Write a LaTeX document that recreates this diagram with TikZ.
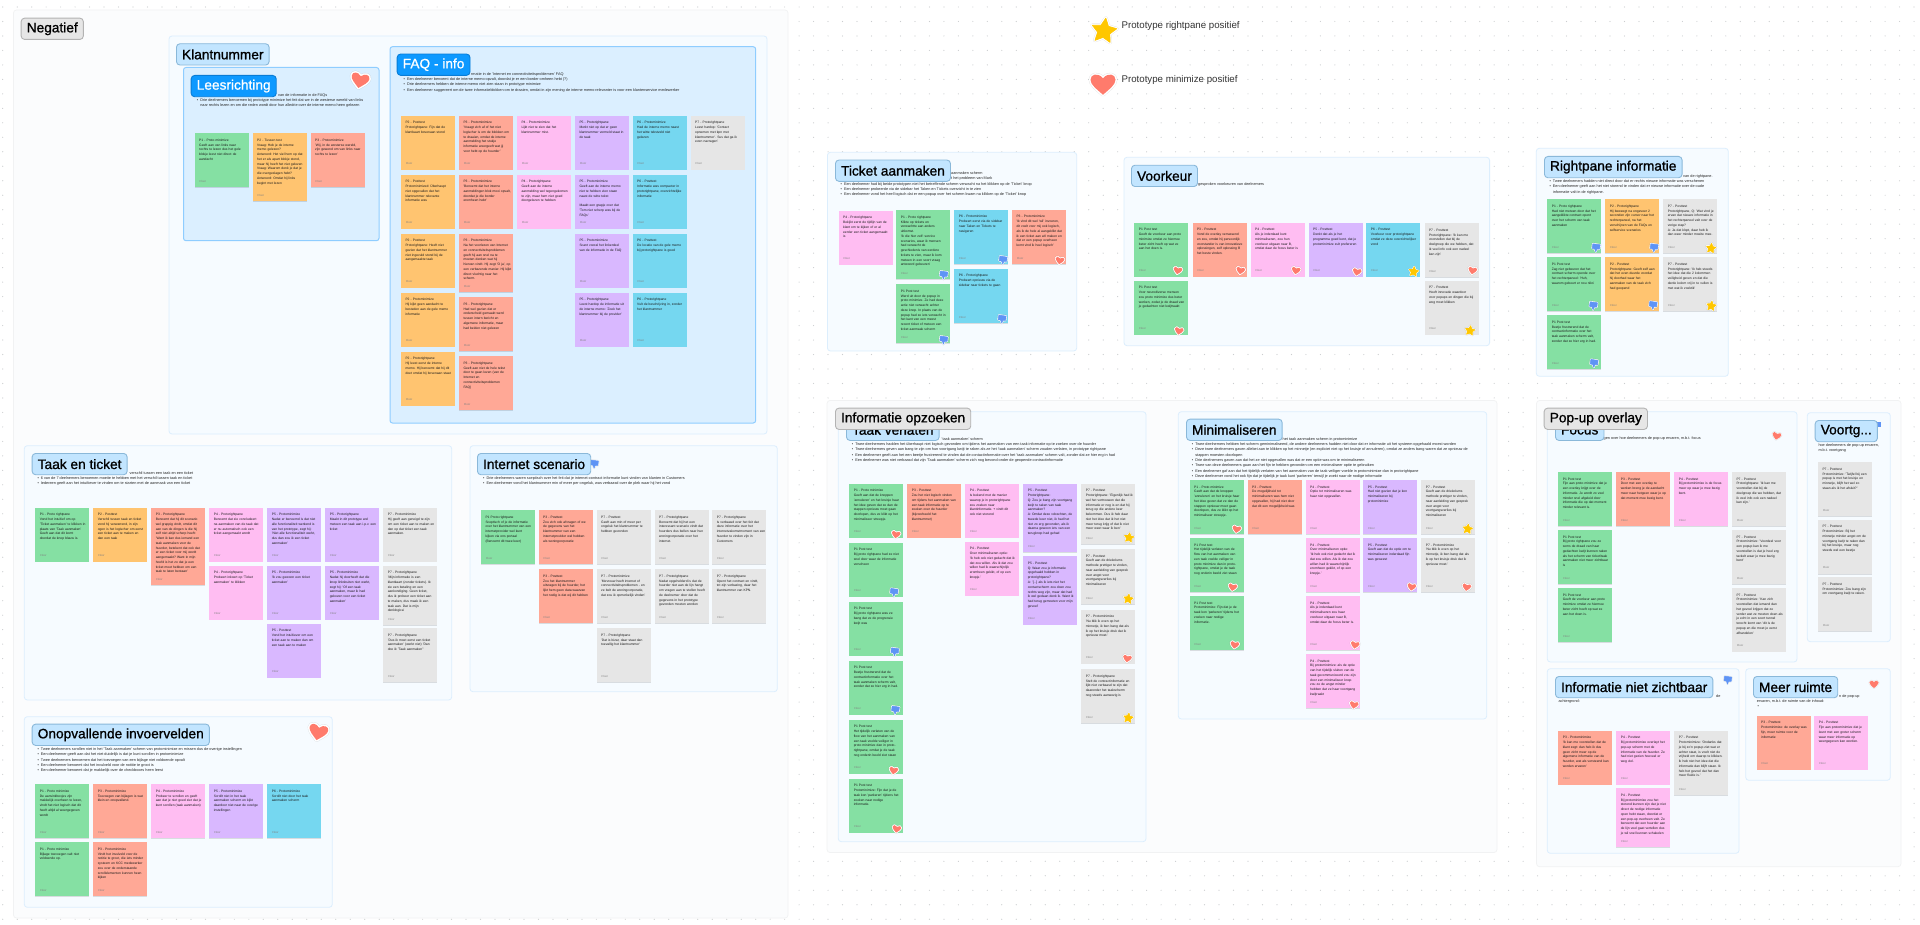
\documentclass[tikz,border=0pt]{standalone}
\usepackage{fontspec}
\setmainfont{Liberation Sans}
\newfontfamily\titlefont[FakeBold=1]{Liberation Sans}
\AtBeginDocument{\frenchspacing}
\usetikzlibrary{positioning, shadows}
\definecolor{boardfill}{HTML}{FBFCFD}
\definecolor{boardline}{HTML}{F1F2F3}
\definecolor{secfill}{HTML}{F6FBFF}
\definecolor{secline}{HTML}{DCEEFD}
\definecolor{subfill}{HTML}{DBEFFF}
\definecolor{subline}{HTML}{8FCDFF}
\definecolor{griddot}{HTML}{CBCDCF}
\definecolor{cgreen}{HTML}{85E0A3}
\definecolor{corange}{HTML}{FFC470}
\definecolor{csalmon}{HTML}{FFA896}
\definecolor{cpink}{HTML}{FFBDF2}
\definecolor{cpurple}{HTML}{D9B8FF}
\definecolor{cblue}{HTML}{75D7F0}
\definecolor{cgrey}{HTML}{E6E6E6}
\definecolor{cheart}{HTML}{FF7B6C}
\definecolor{cstar}{HTML}{FFC700}
\definecolor{cthumb}{HTML}{5F94F5}
\definecolor{ttlight}{HTML}{C2E5FF}
\definecolor{ttlightline}{HTML}{8AB8D9}
\definecolor{ttblue}{HTML}{0D99FF}
\definecolor{ttblueline}{HTML}{087CD6}
\definecolor{ttgreyline}{HTML}{B3B3B3}
\tikzstyle{board}=[draw=boardline,fill=boardfill,rounded corners=3pt,line width=.7pt]
\tikzstyle{section}=[draw=secline,fill=secfill,rounded corners=3pt,line width=.8pt]
\tikzstyle{subsection}=[draw=subline,fill=subfill,rounded corners=2.5pt,line width=1pt]
\tikzstyle{sectitle}=[anchor=north west,rounded corners=3.5pt,line width=.9pt,minimum height=21.3pt,inner xsep=5.6pt,inner ysep=0pt,font=\titlefont\fontsize{13.7}{15}\selectfont]
\tikzstyle{lighttitle}=[sectitle,draw=ttlightline,fill=ttlight]
\tikzstyle{bluetitle}=[sectitle,draw=ttblueline,fill=ttblue,text=white]
\tikzstyle{greytitle}=[sectitle,draw=ttgreyline,fill=cgrey]
\tikzstyle{bullets}=[anchor=north west,inner sep=0pt,align=left,text=black!85,font=\fontsize{3.8}{5.33}\selectfont]
\tikzstyle{floorlabel}=[anchor=south west,inner sep=0pt,xshift=4.8pt,yshift=4.6pt,text=black!50,font=\fontsize{2.8}{3}\selectfont]
\tikzstyle{note}=[anchor=north west,text width=45pt,inner xsep=4.5pt,inner ysep=0pt,outer sep=0pt,text height=8pt,text depth=46pt,text=black!90,font=\fontsize{3.32}{4.77}\selectfont,general shadow={fill=black,opacity=.12,shadow xshift=0pt,shadow yshift=-.7pt},label={[floorlabel]south west:Floor},execute at begin node={\parindent=0pt\rightskip=-12pt plus 1fil\relax}]
\tikzstyle{notegreen}=[note,fill=cgreen]
\tikzstyle{noteorange}=[note,fill=corange]
\tikzstyle{notesalmon}=[note,fill=csalmon]
\tikzstyle{notepink}=[note,fill=cpink]
\tikzstyle{notepurple}=[note,fill=cpurple]
\tikzstyle{noteblue}=[note,fill=cblue]
\tikzstyle{notegrey}=[note,fill=cgrey]
\tikzstyle{legend}=[anchor=west,inner sep=0pt,text=black!80,font=\fontsize{9.7}{11}\selectfont]
\tikzstyle{stickerback}=[draw=black,opacity=.10,line join=round]
\tikzstyle{stickeredge}=[draw=white,fill=white,line join=round]
\tikzset{tall/.style={text depth=#1pt}}
\newcommand{\blt}{\makebox[3.4pt][l]{\textbullet}}
\newcommand{\heartpath}{(0,.9) .. controls (-.5,.45) and (-1,.1) .. (-1,-.3) .. controls (-1,-.75) and (-.42,-.9) .. (0,-.42) .. controls (.42,-.9) and (1,-.75) .. (1,-.3) .. controls (1,.1) and (.5,.45) .. (0,.9) -- cycle}
\newcommand{\starpath}{(0,-1) -- (.294,-.405) -- (.951,-.309) -- (.476,.155) -- (.588,.809) -- (0,.5) -- (-.588,.809) -- (-.476,.155) -- (-.951,-.309) -- (-.294,-.405) -- cycle}
\newcommand{\thumbpath}{(-.8,-.75) -- (.8,-.75) -- (.8,.2) -- (.22,.28) -- (.08,.9) -- (-.25,.3) -- (-.8,.25) -- cycle}
\tikzset{
  pics/heartsticker/.style={code={
    \path[stickerback,line width=#1pt+.8pt] \heartpath;
    \path[stickeredge,line width=#1pt] \heartpath;
    \fill[cheart] \heartpath;
  }},
  pics/starsticker/.style={code={
    \path[stickerback,line width=#1pt+.8pt] \starpath;
    \path[stickeredge,line width=#1pt] \starpath;
    \draw[cstar,fill=cstar,line join=round,line width=.6pt] \starpath;
  }},
  pics/thumbsticker/.style={code={
    \path[stickerback,line width=#1pt+.8pt] \thumbpath;
    \path[stickeredge,line width=#1pt] \thumbpath;
    \draw[cthumb,fill=cthumb,line join=round,line width=.5pt] \thumbpath;
  }}
}
\begin{document}
\begin{tikzpicture}[x=1pt,y=-1pt]
\useasboundingbox (0,0) rectangle (1920,925);
\fill[white] (0,0) rectangle (1920,925);
% dot grid
\foreach \row in {0,...,63}
    \draw[griddot,line width=1.2pt,line cap=round,dash pattern=on 0pt off 14.48pt] (2.7,7+\row*14.48) -- (1920,7+\row*14.48);
% boards
\draw[board] (13.5,10) rectangle (788,918);
\draw[board] (827,400.5) rectangle (1497,852.5);
\draw[board] (1536.5,400.5) rectangle (1901,866.7);
% sections
\draw[section] (169,36) rectangle (767,434);
\draw[subsection] (183.5,67.5) rectangle (379,240.7);
\draw[subsection] (390,46.7) rectangle (755.7,423);
\draw[section] (24.3,445.7) rectangle (451.7,700);
\draw[section] (24.3,716.7) rectangle (332.3,907.3);
\draw[section] (470,445.7) rectangle (777.3,691.7);
\draw[section] (827.4,152.3) rectangle (1076.7,351);
\draw[section] (1124,157.3) rectangle (1489.6,345.7);
\draw[section] (1536.3,148.3) rectangle (1728.3,376.3);
\draw[section] (838.3,411.7) rectangle (1146,841.7);
\draw[section] (1178.3,411.7) rectangle (1486.7,719);
\draw[section] (1547.3,411.7) rectangle (1797,662);
\draw[section] (1807.3,412.7) rectangle (1890.3,641.7);
\draw[section] (1547.3,668.7) rectangle (1739,853.3);
\draw[section] (1745.7,668.7) rectangle (1890.3,780.3);
% legend
\pic[rotate=-8,scale=13] at (1104,31) {starsticker=3};
\node[legend] (legstar) at (1121.4,25.7) {Prototype rightpane positief};
\pic[rotate=0,scale=12.5] at (1103,83.5) {heartsticker=3};
\node[legend] (legheart) at (1121.4,80) {Prototype minimize positief};
% bullets
\node[bullets] (lrb0) at (278,93.4) {van de informatie in de FAQs};
\node[bullets] (lrb) at (196.7,98.4) {\blt Drie deelnemers benoemen bij prototype minimize het feit dat we in de westerse wereld van links\\\hspace*{3.4pt}naar rechts lezen en om die reden wordt door hun alledrie over de interne memo heen gelezen};
\node[bullets] (faqb0) at (471,72.4) {rmatie in de 'Internet en connectiviteitsproblemen' FAQ};
\node[bullets] (faqb) at (403.5,77.7) {\blt Een deelnemer benoemt dat de interne memo opvalt, doordat je er een border omheen hebt (?)\\\blt Drie deelnemers hebben de interne memo niet zien staan in prototype minimize\\\blt Een deelnemer suggereert om de twee informatieblokken om te draaien, omdat in zijn mening de interne memo relevanter is voor een klantenservice medewerker};
\node[bullets] (ttb0) at (129.5,471.4) {verschil tussen een taak en een ticket};
\node[bullets] (ttb) at (37.3,476.7) {\blt 6 van de 7 deelnemers benoemen moeite te hebben met het verschil tussen taak en ticket\\\blt Iedereen geeft aan het intuïtiever te vinden om te starten met de aanmaak van een ticket};
\node[bullets] (oib) at (37.3,747.4) {\blt Twee deelnemers scrollen niet in het 'Taak aanmaken' scherm van protominimize en missen dus de overige instellingen\\\blt Een deelnemer geeft aan dat het niet duidelijk is dat je kunt scrollen in protominimize\\\blt Twee deelnemers benoemen dat het toevoegen van een bijlage niet voldoende opvalt\\\blt Een deelnemer benoemt dat het invulveld voor de notitie te groot is\\\blt Een deelnemer benoemt dat je makkelijk over de checkboxes heen leest};
\node[bullets] (isb) at (483,476.7) {\blt Drie deelnemers waren sceptisch over het feit dat je internet-contract informatie kunt vinden van klanten in Customers\\\blt Een deelnemer vond het klantnummer min of meer per ongeluk, was verbaasd over de plek waar hij het vond};
\node[bullets] (tab0) at (951,171.4) {aanmaken scherm};
\node[bullets] (tab1) at (951,176.7) {t het probleem van Mark};
\node[bullets] (tab) at (840.4,182.1) {\blt Een deelnemer had bij beide prototypen niet het betreffende scherm verwacht na het klikken op de 'Ticket' knop\\\blt Een deelnemer probeerde via de sidebar het Taken en Tickets overzicht in te zien\\\blt Een deelnemer vond het heel logisch dat er een popup over het scherm kwam na klikken op de 'Ticket' knop};
\node[bullets] (vkb) at (1198,182.7) {gesproken voorkeuren van deelnemers};
\node[bullets] (rib0) at (1683,174.1) {van de rightpane.};
\node[bullets] (rib) at (1549.3,179.4) {\blt Twee deelnemers hadden niet direct door dat er rechts nieuwe informatie was verschenen\\\blt Een deelnemer geeft aan het niet storend te vinden dat er nieuwe informatie over de oude\\\hspace*{3.4pt}informatie valt in de rightpane.};
\node[bullets] (tvb0) at (941.5,437.1) {'taak aanmaken' scherm};
\node[bullets] (tvb) at (851.7,442.4) {\blt Twee deelnemers hadden het überhaupt niet logisch gevonden om tijdens het aanmaken van een taak informatie op te zoeken over de huurder\\\blt Twee deelnemers geven aan bang te zijn om hun voortgang kwijt te raken als ze het 'taak aanmaken' scherm zouden verlaten, in prototype rightpane\\\blt Een deelnemer geeft aan het een beetje frustrerend te vinden dat de contactinformatie over het 'taak aanmaken' scherm valt, zonder dat ze hier erg in had\\\blt Een deelnemer was niet verbaasd dat zijn 'Taak aanmaken' scherm zich nog bevond onder de geopende contractinformatie};
\node[bullets] (mib0) at (1282.5,437.1) {het taak aanmaken scherm in protominimize};
\node[bullets] (mib) at (1191.7,442.4) {\blt Twee deelnemers hebben het scherm geminimaliseerd, de andere deelnemers hadden niet door dat er informatie uit het systeem opgehaald moest worden\\\blt Deze twee deelnemers gaven allebei aan te klikken op het minnetje (en expliciet niet op het kruisje of annuleren), omdat ze anders bang waren dat ze opnieuw de\\\hspace*{3.4pt}stappen moesten doorlopen\\\blt Drie deelnemers gaven aan dat het ze niet opgevallen was dat er een optie was om te minimaliseren\\\blt Twee van deze deelnemers gaan aan het fijn te hebben gevonden om een minimaliseer optie te gebruiken\\\blt Een deelnemer gaf aan dat het tijdelijk verlaten van het aanmaken van de taak veiliger voelde in protominimize dan in protorightpane\\\blt Deze deelnemer vond het ook fijn dat je tijdelijk je taak kunt 'parkeren' terwijl je zoekt naar de nodige informatie};
\node[bullets] (fob) at (1603.5,436.7) {gen over hoe deelnemers de pop-up ervaren, m.b.t. focus};
\node[bullets] (vob) at (1818.3,443.7) {hoe deelnemers de pop-up ervaren,\\m.b.t. voortgang};
\node[bullets] (inb0) at (1716,694.1) {de};
\node[bullets] (inb) at (1558.3,699.7) {achtergrond:};
\node[bullets] (mrb0) at (1839,694.1) {n de pop-up};
\node[bullets] (mrb) at (1756.7,699.4) {ervaren, m.b.t. de ruimte van de inhoud:\\\hspace*{.6pt}\textbullet};
% Leesrichting
\node[notegreen] (lr1) at (194.7,133.3) {P1 - Proto minimize\\Geeft aan van links naar\\rechts te lezen dus het gele\\blokje leest niet direct de\\aandacht};
\node[noteorange,tall=60] (lr2) at (252.7,133.3) {P2 - Tussen test\\Vraag: Heb je de interne\\memo gelezen?\\Antwoord: Het viel hem op dat\\het er als apart blokje stond,\\maar hij heeft het niet gelezen\\Vraag: Waarom denk je dat je\\die overgeslagen hebt?\\Antwoord: Omdat hij links\\begint met lezen};
\node[notesalmon] (lr3) at (310.7,133.3) {P3 - Protominimize\\'Wij, in de westerse wereld,\\zijn gewend om van links naar\\rechts te lezen'};
% FAQ - info
\node[noteorange] (fq11) at (401,115.7) {P2 - Posttest\\Protorightpane: Fijn dat de\\klantkaart bovenaan stond};
\node[noteorange,below=5pt of fq11] (fq12) {P2 - Posttest\\Protominimized: Überhaupt\\niet opgevallen dat het\\klantnummer relevante\\informatie was};
\node[noteorange,below=5pt of fq12] (fq13) {P2 - Posttest\\Protorightpane: Heeft niet\\gezien dat het klantnummer\\niet ingevuld stond bij de\\aangemaakte taak};
\node[noteorange,below=5pt of fq13] (fq14) {P2 - Protominimize\\Hij kijkt geen aandacht te\\besteden aan de gele memo\\informatie};
\node[noteorange,below=5pt of fq14] (fq15) {P2 - Protorightpane\\Hij leest eerst de interne\\memo. Hij benoemt dat hij dit\\doet omdat hij bovenaan staat};
\node[notesalmon] (fq21) at (459,115.7) {P3 - Protominimize\\'Vraagt zich af of het niet\\logischer is om de blokken om\\te draaien, omdat de interne\\aanmelding het stukje\\informatie weergeeft wat jij\\voor hebt op de huurder'};
\node[notesalmon,below=5pt of fq21] (fq22) {P3 - Protominimize\\'Benoemt dat het interne\\aanmeldingen blok mooi opvalt,\\doordat je die border\\eromheen hebt'};
\node[notesalmon,below=5pt of fq22,tall=50.7] (fq23) {P3 - Protominimize\\Na het voorlezen van Internet\\en connectiviteitsproblemen\\geeft hij aan snel na te\\moeten denken wat hij\\hiervan vindt. Hij zegt 'O ja', op\\een verbazende manier. Hij kijkt\\direct vluchtig naar het\\scherm.};
\node[notesalmon,below=5pt of fq23] (fq24) {P3 - Protorightpane\\Had wel gezien dat er\\onderscheid gemaakt werd\\tussen intern bericht en\\algemene informatie, maar\\had beiden niet gelezen};
\node[notesalmon,below=5pt of fq24] (fq25) {P3 - Protorightpane\\Geeft aan niet de hele tekst\\door te gaan lezen (van de\\Internet en\\connectiviteitsproblemen\\FAQ)};
\node[notepink] (fq31) at (517,115.7) {P4 - Protominimize\\Lijkt niet te zien dat het\\klantnummer mist.};
\node[notepink,below=5pt of fq31] (fq32) {P4 - Protorightpane\\Geeft aan de interne\\aanmelding wel tegengekomen\\te zijn, maar hem niet goed\\doorgelezen te hebben};
\node[notepurple] (fq41) at (575,115.7) {P5 - Protorightpane\\Merkt niet op dat er geen\\klantnummer vermeld staat in\\de taak};
\node[notepurple,below=5pt of fq41] (fq42) {P5 - Protominimize\\Geeft aan de interne memo\\niet te hebben zien staan\\naast de witte tekst\\\mbox{}\\Maakt een grapje over dat\\'Tom niet scherp was bij de\\FAQs'};
\node[notepurple,below=5pt of fq42] (fq43) {P5 - Protominimize\\Scant vooral het linkerdeel\\van de informatie in de FAQ};
\node[notepurple,below=5pt of fq43] (fq44) {P5 - Protorightpane\\Leest hardop de informatie uit\\de interne memo: 'Zoek het\\klantnummer bij de provider'};
\node[noteblue] (fq51) at (632.7,115.7) {P6 - Protominimize\\Had de interne memo naast\\het witte tekstveld niet\\gelezen};
\node[noteblue,below=5pt of fq51] (fq52) {P6 - Posttest\\Informatie was compacter in\\protorightpane, overzichtelijke\\informatie};
\node[noteblue,below=5pt of fq52] (fq53) {P6 - Posttest\\De locatie van de gele memo\\bij protorightpane is goed};
\node[noteblue,below=5pt of fq53] (fq54) {P6 - Protorightpane\\Vult de beschrijving in, zonder\\het klantnummer};
\node[notegrey] (fq61) at (690.7,115.7) {P7 - Protorightpane\\Leest hardop: 'Contact\\opnemen met kpn met\\klantnummer'. Sus dat ga ik\\even navragen'};
% Taak en ticket
\node[notegreen] (tt11) at (35.3,507.7) {P1 - Proto rightpane\\Vond het intuïtief om op\\'Ticket aanmaken' te klikken in\\plaats van 'Taak aanmaken'\\Geeft aan dat dit komt\\doordat de knop blauw is.};
\node[noteorange] (tt21) at (93.3,507.7) {P2 - Posttest\\Verschil tussen taak en ticket\\vond hij verwarrend, in zijn\\ogen is het logischer om eerst\\een ticket aan te maken en\\dan een taak};
\node[notesalmon,tall=69.7] (tt31) at (151.3,507.7) {P3 - Protorightpane\\Benoemt dat hij dit scenario\\wel grappig vindt, omdat dit\\aan van de dingen is die hij\\zelf niet altijd scherp heeft:\\'Want ik kan dus iemand een\\taak aanmaken voor de\\huurder, betekent dat ook dat\\er een ticket voor mij wordt\\aangemaakt? Want in mijn\\hoofd is het zo dat je een\\ticket moet hebben om een\\taak te laten bestaan'};
\node[notepink] (tt41) at (209.3,507.7) {P4 - Protorightpane\\Benoemt dat zie concludeert\\na aanmaken van de taak dat\\er nu automatisch ook een\\ticket aangemaakt wordt};
\node[notepink,below=4pt of tt41] (tt42) {P4 - Protorightpane\\Probeert inkoert op 'Ticket\\aanmaken' te klikken};
\node[notepurple] (tt51) at (267.3,507.7) {P5 - Protominimize\\Nadat er benoemd is dat niet\\alle functionaliteit werkend is\\van het prototype, zegt hij:\\'Niet alle functionaliteit werkt,\\dus dan zou ik een ticket\\aanmaken'};
\node[notepurple,below=4pt of tt51] (tt52) {P5 - Protominimize\\'Ik zou gewoon een ticket\\aanmaken'};
\node[notepurple,below=4pt of tt52] (tt53) {P5 - Posttest\\Vond het intuïtiever om een\\ticket aan te maken dan om\\een taak aan te maken};
\node[notepurple] (tt61) at (325.3,507.7) {P5 - Protorightpane\\Maakt in dit prototype wel\\meteen een taak aan i.p.v. een\\ticket};
\node[notepurple,below=4pt of tt61] (tt62) {P5 - Protominimize\\Nadat hij doorheeft dat die\\knop linksbuiten niet werkt,\\zegt hij: 'Of een taak\\aanmaken, maar ik had\\gekozen voor een ticket\\aanmaken'};
\node[notegrey] (tt71) at (383.3,507.7) {P7 - Protominimize\\Hij geeft aan geneigd te zijn\\om een ticket aan te maken en\\dan op dat ticket een taak\\aanmaken.};
\node[notegrey,below=4pt of tt71,tall=51.3] (tt72) {P7 - Protorightpane\\'Mijn informatie is een\\klantkaart (zonder tickets). Ik\\zie een betaling en een\\aankondiging. Geen ticket,\\dus ik probeer een ticket aan\\te maken, dus maak ik een\\taak aan. Dat is mijn\\denklogica'};
\node[notegrey,below=3.3pt of tt72] (tt73) {P7 - Protorightpane\\'Dus ik moet eerst een ticket\\aanmaken' (werkt niet) 'Dan\\doe ik 'Taak aanmaken''};
% Onopvallende invoervelden
\node[notegreen] (oi11) at (35.3,784.3) {P1 - Proto minimize\\De aanvinkboxjes zijn\\makkelijk overheen te lezen,\\vindt het niet logisch dat dit\\heeft altijd al weergegeven\\wordt};
\node[notegreen,below=4pt of oi11] (oi12) {P1 - Proto minimize\\Bijlage toevoegen valt niet\\voldoende op.};
\node[notesalmon] (oi21) at (93.3,784.3) {P3 - Protominimize\\Toevoegen van bijlagen is wat\\klein en onopvallend.};
\node[notesalmon,below=4pt of oi21] (oi22) {P3 - Protominimize\\Vindt het invulveld voor de\\notitie te groot, die iets minder\\systeem en KCC medewerker\\zou over de onderstaande\\scrollelementen kunnen heen\\kijken};
\node[notepink] (oi31) at (151.3,784.3) {P4 - Protominimize\\Probeer te scrollen en geeft\\aan dat je niet goed ziet dat je\\kunt scrollen (taak aanmaken)};
\node[notepurple] (oi41) at (209.3,784.3) {P5 - Protominimize\\Scrollt niet in het taak\\aanmaken scherm en kijkt\\daardoor niet naar de overige\\instellingen};
\node[noteblue] (oi51) at (267.3,784.3) {P6 - Protominimize\\Scrollt niet door het taak\\aanmaken scherm};
% Internet scenario
\node[notegreen] (is11) at (481,510.3) {P1 Proto rightpane\\Sceptisch of je de informatie\\over het klantnummer van een\\internetprovider wel kunt\\kijken via ons portaal\\(Benoemt dit twee keer)};
\node[notesalmon] (is21) at (538.7,510.3) {P3 - Posttest\\Zou zich ook afvragen of we\\de gegevens van het\\klantnummer van een\\internetprovider wel hebben\\als woningcorporatie};
\node[notesalmon,below=5pt of is21] (is22) {P3 - Posttest\\Zou het klantnummer\\uitvragen bij de huurder, het\\lijkt hem geen data waarvan\\het nodig is dat wij dit hebben};
\node[notegrey] (is31) at (596.7,510.3) {P7 - Posttest\\Geeft aan min of meer per\\ongeluk het klantnummer te\\hebben gevonden};
\node[notegrey,below=5pt of is31] (is32) {P7 - Protominimize\\'Mevrouw heeft internet of\\connectiviteitsproblemen - en\\ze belt de woningcorporatie,\\dat zou ik opmerkelijk vinden'};
\node[notegrey,below=5pt of is32] (is33) {P7 - Protorightpane\\'Dat is bizar, daar staat dan\\toevallig het klantnummer'};
\node[notegrey] (is41) at (654.7,510.3) {P7 - Protorightpane\\Benoemt dat hij het een\\interessant scenario vindt dat\\huurders dus bellen naar hun\\woningcorporatie over het\\internet.};
\node[notegrey,below=5pt of is41] (is42) {P7 - Protorightpane\\Nadat opgehelderd is dat de\\huurder niet aan de lijn hangt\\om vragen aan te stellen heeft\\de deelnemer door dat de\\gegevens in het prototype\\gevonden moeten worden};
\node[notegrey] (is51) at (712.3,510.3) {P7 - Protorightpane\\Is verbaasd over het feit dat\\deze informatie over het\\internetvakomstmoment van een\\huurder te vinden zijn in\\Customers};
\node[notegrey,below=5pt of is51] (is52) {P7 - Protorightpane\\Opent het contract en vindt,\\tot zijn verbazing, daar het\\klantnummer van KPN.};
% Ticket aanmaken
\node[notepink] (ta11) at (838.6,210.7) {P4 - Protorightpane\\Bekijkt eerst de tijdlijn van de\\klant om te kijken of er al\\eerder een ticket aangemaakt\\is};
\node[notegreen,tall=60.7] (ta21) at (896.3,210.3) {P1 - Proto rightpane\\Klikte op tickets en\\verwachtte aan anders\\uitkomst.\\'Ik die hier zelf: service\\scenarios, waar ik mensen\\had verwacht de\\geschiedenis van eerdere\\tickets te zien, maar ik kom\\meteen in een soort vraag\\antwoord gebeuren'};
\node[notegreen,below=5.3pt of ta21,tall=51] (ta22) {P1 Post test\\Werd uit door de popup in\\proto minimize. Ze had deze\\actie niet verwacht achter\\deze knop. In plaats van de\\popup had ze iets verwacht in\\het kant van een meest\\recent ticket of meteen een\\ticket aanmaak scherm};
\node[noteblue] (ta31) at (954.4,210) {P6 - Protominimize\\Probeert eerst via de sidebar\\naar Taken en Tickets te\\navigeren};
\node[noteblue,below=5pt of ta31] (ta32) {P6 - Protorightpane\\Probeert opnieuw via de\\sidebar naar tickets te gaan};
\node[notesalmon] (ta41) at (1012,210) {P3 - Protominimize\\'Ik vind dit wel 'wil' invoeren,\\dit voelt voor mij ook logisch,\\als ik de hele al aangeklikt dat\\ik een ticket aan wil maken en\\dat er een popup overheen\\komt vind ik heel logisch'};
% Voorkeur
\node[notegreen] (vk11) at (1134.4,222.7) {P1 Post test\\Geeft de voorkeur aan proto\\minimize omdat ze hiermee\\beter zicht heeft op wat ze\\aan het doen is.};
\node[notegreen,below=4pt of vk11] (vk12) {P1 Post test\\Voor neurodiverse mensen\\zou proto minimize dus beter\\werken, zodat je de draad van\\je gedachten niet kwijtraakt};
\node[notesalmon] (vk21) at (1192.5,222.7) {P3 - Posttest\\Vond de overlay verrassend\\en zou, omdat hij persoonlijk\\voorstander is van innovatieve\\oplossingen, zelf oplossing B\\het beste vinden.};
\node[notepink] (vk31) at (1250.6,222.7) {P4 - Posttest\\Als je inderdaad kunt\\minimaliseren, zou hun\\voorkeur uitgaan naar B,\\omdat daar de focus beter is};
\node[notepurple] (vk41) at (1308.6,222.7) {P5 - Posttest\\Denkt dat als je het\\programma goed kent, dat je\\protominimize zult prefereren};
\node[noteblue] (vk51) at (1366.4,222.7) {P6 - Posttest\\Voorkeur voor protorightpane\\omdat ze deze overzichtelijker\\vond};
\node[notegrey] (vk61) at (1424.5,223.3) {P7 - Posttest\\Protorightpane: 'Ik kan me\\voorstellen dat bij de\\doelgroep die we hebben, dat\\ik veel info ook een nadeel\\kan zijn'};
\node[notegrey,below=3.4pt of vk61] (vk62) {P7 - Posttest\\Heeft innovatie waardoor\\voor popups en dingen die bij\\weg moet klikken};
% Rightpane informatie
\node[notegreen] (ri11) at (1547.3,199.3) {P1 - Proto rightpane\\Had niet meteen door dat het\\aangeklikte contract opent\\over het scherm van taak\\aanmaken};
\node[notegreen,below=4pt of ri11] (ri12) {P1 Post test\\Zag niet gebeuren dat het\\contract scherm opende over\\het rechterpaneel: 'Huh,\\waarom gebeurt er nou niks'};
\node[notegreen,below=4pt of ri12] (ri13) {P1 Post test\\Beetje frustrerend dat de\\contractinformatie over het\\taak aanmaken scherm valt,\\zonder dat ze hier erg in had.};
\node[noteorange] (ri21) at (1605.3,199.3) {P2 - Protorightpane\\Hij beweegt na ongeveer 2\\seconden zijn cursor naar het\\rechterpaneel, na het\\verschijnen van de FAQs en\\selfservice scenarios};
\node[noteorange,below=4pt of ri21] (ri22) {P2 - Posttest\\Protorightpane: Geeft zelf aan\\dat het even duurde voordat\\hij doorhad waar het\\aanmaken van de taak zich\\had geopend};
\node[notegrey] (ri31) at (1663.3,199.3) {P7 - Posttest\\Protorightpane, Q: 'Wat vind je\\ervan dat nieuwe informatie in\\het rechterpaneel valt over de\\vorige stap?\\A: Ja dat klopt, daar heb ik\\dan weer minder moeite mee.};
\node[notegrey,below=4pt of ri31] (ri32) {P7 - Posttest\\Protorightpane: 'Ik heb steeds\\het idee dat die 2 kolommen\\veiligheid geven en dat die\\derde kolom vrij in te vullen is\\met wat ik zoektik'};
% Taak verlaten
\node[notegreen] (tv11) at (849.3,483.7) {P1 - Proto minimize\\Geeft aan dat de knoppen\\'annuleren' en het kruisje haar\\het idee geven dat ze dan de\\stappen opnieuw moet gaan\\doorlopen, dus ze klikt op het\\minimaliseer streepje.};
\node[notegreen,below=5pt of tv11] (tv12) {P1 Post test\\Bij proto rightpane had ze niet\\snel door waar de informatie\\verscheen};
\node[notegreen,below=5pt of tv12] (tv13) {P1 Post test\\Bij proto rightpane was ze\\bang dat ze de progressie\\kwijt was};
\node[notegreen,below=5pt of tv13] (tv14) {P1 Post test\\Beetje frustrerend dat de\\contractinformatie over het\\taak aanmaken scherm valt,\\zonder dat ze hier erg in had.};
\node[notegreen,below=5pt of tv14] (tv15) {P1 Post test\\Het tijdelijk verlaten van de\\flow van het aanmaken van\\een taak voelde veiliger in\\proto minimize dan in proto-\\rightpane, omdat je de taak\\nog onderin beeld ziet staan};
\node[notegreen,below=5pt of tv15] (tv16) {P1 Post test\\Protominimize: Fijn dat je de\\taak kon 'parkeren' tijdens het\\zoeken naar nodige\\informatie.};
\node[notesalmon] (tv21) at (907.3,483.7) {P3 - Posttest\\Zou het niet logisch vinden\\om tijdens het aanmaken van\\een taak informatie op te\\zoeken over de huurder\\(bijvoorbeeld het\\klantnummer)};
\node[notepink] (tv31) at (965.3,483.7) {P4 - Posttest\\Is bekend met de manier\\waarop je in protorightpane\\zou zoeken naar\\klantinformatie. + vindt dit\\ook niet storend};
\node[notepink,below=4pt of tv31] (tv32) {P4 - Posttest\\Over minimaliseren optie:\\'Ik heb ook niet gedacht dat ik\\dat zou willen. Als ik dat zou\\willen had ik waarschijnlijk\\eromheen gekikt, of op een\\knopje.'};
\node[notepurple,tall=60.7] (tv41) at (1023.3,483.7) {P5 - Posttest\\Protorightpane:\\Q: Zou je bang zijn voortgang\\kwijt te raken van taak\\aanmaken?\\A: Omdat deze vdoschten, de\\tweede keer niet, ik had het\\niet zo erg gevonden, als ik\\daarna gewoon iets van een\\terugknop had gehad};
\node[notepurple,below=4pt of tv41,tall=60.3] (tv42) {P5 - Posttest\\Q: Waar zou je informatie\\opgehaald hebben in\\protorightpane?\\A: '[...] als ik iets niet het\\contactscherm zou doen zou\\rechts weg zijn, maar dat had\\ik wel gedaan denk ik. Want ik\\had terug gemoeten voor mijn\\gevoel'};
\node[notegrey,tall=52.3] (tv51) at (1081.3,483.7) {P7 - Posttest\\Protorightpane: 'Eigenlijk had ik\\wel het vertrouwen dat die\\informatie er nog is en dat hij\\terug op die andere keer\\bekommen. Dus ik heb daar\\niet het idee dat ik het niet\\meer terug krijg of dat ik niet\\meer weet waar ik ben'};
\node[notegrey,below=5pt of tv51,tall=47] (tv52) {P7 - Posttest\\Geeft aan de driekolums\\methode prettiger te vinden,\\naar aanleiding van gesprek\\over angst voor\\voortgangsverlies bij\\minimaliseren};
\node[notegrey,below=5.7pt of tv52] (tv53) {P7 - Protominimize\\'Nu blik ik even op het\\minnetje, ik ben bang dat als\\ik op het kruisje druk dat ik\\opnieuw moet.'};
\node[notegrey,below=5.7pt of tv53] (tv54) {P7 - Protorightpane\\Stelt de contractinformatie en\\lijkt niet verbaasd te zijn dat\\daaronder het taakscherm\\nog steeds aanwezig is};
% Minimaliseren
\node[notegreen] (mi11) at (1189.7,480) {P1 - Proto minimize\\Geeft aan dat de knoppen\\'annuleren' en het kruisje haar\\het idee geven dat ze dan de\\stappen opnieuw moet gaan\\doorlopen, dus ze klikt op het\\minimaliseer streepje.};
\node[notegreen,below=4pt of mi11] (mi12) {P1 Post test\\Het tijdelijk verlaten van de\\flow van het aanmaken van\\een taak voelde veiliger in\\proto minimize dan in proto-\\rightpane, omdat je de taak\\nog onderin beeld ziet staan};
\node[notegreen,below=4pt of mi12] (mi13) {P1 Post test\\Protominimize: Fijn dat je de\\taak kon 'parkeren' tijdens het\\zoeken naar nodige\\informatie.};
\node[notesalmon] (mi21) at (1247.7,480) {P3 - Posttest\\De mogelijkheid tot\\minimaliseren was hem niet\\opgevallen, hij had niet door\\dat dit een mogelijkheid was};
\node[notepink] (mi31) at (1305.7,480) {P4 - Posttest\\Optie tot minimaliseren was\\haar niet opgevallen.};
\node[notepink,below=4pt of mi31] (mi32) {P4 - Posttest\\Over minimaliseren optie:\\'Ik heb ook niet gedacht dat ik\\dat zou willen. Als ik dat zou\\willen had ik waarschijnlijk\\eromheen gekikt, of op een\\knopje.'};
\node[notepink,below=4pt of mi32] (mi33) {P4 - Posttest\\Als je inderdaad kunt\\minimaliseren zou haar\\voorkeur uitgaan naar B,\\omdat daar de focus beter is.};
\node[notepink,below=4pt of mi33] (mi34) {P4 - Posttest\\Bij protominimize: als de optie\\van het tijdelijk sluiten van de\\taak gecommuniceerd zou zijn\\door een minimaliseer knop\\zou ze de angst minder\\hebben dat ze haar voortgang\\kwijtraakt};
\node[notepurple] (mi41) at (1363.3,480) {P5 - Posttest\\Had niet gezien dat je kon\\minimaliseren bij\\protominimize};
\node[notepurple,below=4pt of mi41] (mi42) {P5 - Posttest\\Geeft aan dat de optie om te\\minimaliseren inderdaad fijn\\was geweest};
\node[notegrey] (mi51) at (1421.3,480) {P7 - Posttest\\Geeft aan de driekolums\\methode prettiger te vinden,\\naar aanleiding van gesprek\\over angst voor\\voortgangsverlies bij\\minimaliseren};
\node[notegrey,below=4pt of mi51] (mi52) {P7 - Protominimize\\'Nu blik ik even op het\\minnetje, ik ben bang dat als\\ik op het kruisje druk dat ik\\opnieuw moet.'};
% Focus
\node[notegreen] (fo11) at (1558.3,472) {P1 Post test\\Fijn aan proto minimize dat je\\een overlay krijgt over de\\informatie. Je wordt zo veel\\minder snel afgeleid door\\informatie die op dat moment\\minder relevant is.};
\node[notegreen,below=4pt of fo11] (fo12) {P1 Post test\\Bij proto rightpane zou ze\\soms de draad van haar\\gedachten kwijt kunnen raken\\als het scherm van ticket/taak\\aanmaken niet meer zichtbaar\\is};
\node[notegreen,below=4pt of fo12] (fo13) {P1 Post test\\Geeft de voorkeur aan proto\\minimize omdat ze hiermee\\beter zicht heeft op wat ze\\aan het doen is.};
\node[notesalmon] (fo21) at (1616.3,472) {P3 - Posttest\\Door met een overlay te\\werken breng je de aandacht\\meer naar hetgeen waar je op\\dat moment mee bezig bent.};
\node[notepink] (fo31) at (1674.3,472) {P4 - Posttest\\Bij protominimize is de focus\\meer op waar je mee bezig\\bent.};
\node[notegrey] (fo41) at (1732,472) {P7 - Posttest\\Protorightpane: 'Ik kan me\\voorstellen dat bij de\\doelgroep die we hebben, dat\\ik veel info ook een nadeel\\kan zijn.'};
\node[notegrey,below=4pt of fo41] (fo42) {P7 - Posttest\\Protominimize: 'Voordeel voor\\een popup kan ik me\\voorstellen is dat je heel erg\\tackelt waar je mee bezig\\bent'};
\node[notegrey,below=4pt of fo42,tall=55.7] (fo43) {P7 - Posttest\\Protominimize: 'Kan zich\\voorstellen dat iemand dan\\het gevoel krijgen dat ze\\verder wat ze moeten doen als\\je echt in een soort tunnel\\terecht komt van 'dit is de\\popup en die moet je eerst\\afhandelen'};
% Voortgang
\node[notegrey] (vo11) at (1818,462.3) {P7 - Posttest\\Protominimize: 'Twijfel bij een\\popup is met het kruisje en\\minnetje, blijft het wel zo\\staan als ik het afsluit?'};
\node[notegrey,below=3.5pt of vo11] (vo12) {P7 - Posttest\\Protominimize: Bij het\\minnetje minder angst om de\\voortgang kwijt te raken dan\\bij het kruisje, maar nog\\steeds wel een beetje};
\node[notegrey,below=3.5pt of vo12] (vo13) {P7 - Posttest\\Protominimize: Zou bang zijn\\om voortgang kwijt te raken.};
% Informatie niet zichtbaar
\node[notesalmon] (in11) at (1558.3,730.7) {P3 - Protominimize\\'Ik kan me voorstellen dat de\\klant zegt: dan heb ik dus\\geen zicht meer op de\\algemene informatie van de\\huurder, wat als versteend kan\\worden ervaren'};
\node[notepink] (in21) at (1616.3,730.7) {P4 - Posttest\\Bij protominimize overlayt het\\pop-up scherm met de\\informatie van de huurder. Ze\\had niet gezien hoeveel er\\weg viel.};
\node[notepink,below=3.6pt of in21,tall=50.7] (in22) {P4 - Posttest\\Bij protominimize zou het\\storend kunnen zijn dat je niet\\direct de nodige informatie\\open hebt staan, doordat er\\een pop-up overheen valt. Ze\\benoemt dat een huurder aan\\de lijn veel gaat vertellen dus\\je wil snel kunnen schakelen};
\node[notegrey,tall=56.3] (in31) at (1674.3,730.7) {P7 - Posttest\\Protominimize: 'Ondanks dat\\je bij zo'n popup ziet wat er\\achter staat, is voelt niet de\\vrijheid om daarop te klikken.\\Ik heb niet het idee dat die\\informatie dan blijft staan. Ik\\heb het gevoel dat het dan\\meer fluide is.'};
% Meer ruimte
\node[notesalmon] (mr11) at (1756.7,715.7) {P3 - Posttest\\Protominimize: de overlay was\\fijn, meer ruimte voor de\\informatie};
\node[notepink] (mr21) at (1814.3,715.7) {P4 - Posttest\\Fijn aan protominimize dat je\\leunt met een groter scherm\\waar meer informatie op\\weergegeven kan worden.};
% stickers
\pic[rotate=-12,scale=9] at (360,80) {heartsticker=3};
\pic[rotate=-12,scale=9.5] at (318.3,731.7) {heartsticker=3};
\pic[rotate=-8,scale=4.6] at (594.3,464) {thumbsticker=1.2};
\pic[rotate=-12,scale=4.5] at (1776.7,435.7) {heartsticker=1};
\pic[rotate=-8,scale=4.5] at (1727.7,680) {thumbsticker=1};
\pic[rotate=0,scale=4.6] at (1874,684) {heartsticker=1};
\foreach \cx/\cy in {1059.8/260.3, 1177.8/270.3, 1240.6/270.3, 1296/270.3, 1357/271.7, 1472.6/270.3, 1179/330.7, 896/534.3, 893.7/770.3, 896.7/828.7, 1127.3/658.3, 1236.7/529, 1232.7/587, 1234.7/644.7, 1355/644.7, 1354/704.7, 1411.7/586.7, 1466.7/587}
    \pic[rotate=-10,scale=4.4] at (\cx,\cy) {heartsticker=1.8};
\foreach \cx/\cy in {1413.7/271.7, 1470/330.7, 1711/248.3, 1711.3/306, 1129/537.7, 1128.3/599, 1128.3/718, 1467.7/529}
    \pic[rotate=-8,scale=5] at (\cx,\cy) {starsticker=1.8};
\foreach \cx/\cy in {943.6/275, 943.6/340, 1003/260, 1002/319, 1596/247.7, 1593.3/305.7, 1594/363.3, 1654/247.7, 1653/305.3, 894/592.3, 894.7/651.7, 895.3/710}
    \pic[rotate=-8,scale=4.6] at (\cx,\cy) {thumbsticker=1.8};
\fill[cthumb] (1877,421.5) rectangle (1881,427);
% titles
\node[lighttitle] (klant) at (176,43.3) {Klantnummer};
\node[bluetitle] (lees) at (190.7,75) {Leesrichting};
\node[bluetitle] (faq) at (396.7,53.6) {FAQ - info};
\node[lighttitle] (taakticket) at (31.7,453) {Taak en ticket};
\node[lighttitle] (onopvallend) at (31.7,723.7) {Onopvallende invoervelden};
\node[lighttitle] (internet) at (477,453) {Internet scenario};
\node[lighttitle] (ticket) at (835,159.6) {Ticket aanmaken};
\node[lighttitle] (voorkeur) at (1131,164.8) {Voorkeur};
\node[lighttitle] (rightpane) at (1544,156) {Rightpane informatie};
\node[lighttitle] (verlaten) at (846,418.7) {Taak verlaten};
\node[lighttitle] (minimal) at (1186,418.7) {Minimaliseren};
\node[lighttitle] (focus) at (1555,418.7) {Focus};
\node[lighttitle] (voortgang) at (1814.7,420) {Voortg...};
\node[lighttitle] (nietzicht) at (1555,676) {Informatie niet zichtbaar};
\node[lighttitle] (ruimte) at (1753,676) {Meer ruimte};
\node[greytitle] (negatief) at (20.7,17.7) {Negatief};
\node[greytitle] (opzoeken) at (835,407.7) {Informatie opzoeken};
\node[greytitle] (popup) at (1543.7,407.7) {Pop-up overlay};
\end{tikzpicture}
\end{document}
